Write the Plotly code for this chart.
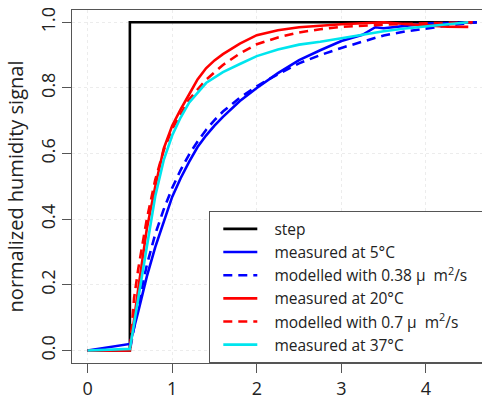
import plotly.graph_objects as go

# ---- data ----
step_x = [0, 0.5, 0.5, 4.6]
step_y = [0, 0, 1.0, 1.0]

t_red = [0, 0.5, 0.6, 0.7, 0.8, 0.9, 1.0, 1.1, 1.2, 1.3, 1.4, 1.5, 1.6, 1.8, 2.0, 2.25, 2.5, 2.75, 3.0, 3.25, 3.5, 3.75, 4.0, 4.25, 4.5]
meas_20 = [0, 0, 0.19, 0.37, 0.50, 0.615, 0.685, 0.735, 0.78, 0.826, 0.86, 0.884, 0.903, 0.935, 0.961, 0.976, 0.985, 0.99, 0.994, 0.997, 1.0, 0.995, 0.99, 0.987, 0.986]

t_mod20 = [0, 0.5, 0.55, 0.6, 0.7, 0.8, 0.9, 1.0, 1.2, 1.4, 1.6, 1.8, 2.0, 2.25, 2.5, 2.75, 3.0, 3.5, 4.0, 4.6]
mod_20 = [0, 0, 0.16, 0.25, 0.40, 0.52, 0.61, 0.675, 0.765, 0.825, 0.87, 0.905, 0.933, 0.954, 0.969, 0.979, 0.986, 0.993, 0.997, 1.0]

t_cyan = [0, 0.5, 0.6, 0.7, 0.8, 0.9, 1.0, 1.1, 1.2, 1.4, 1.6, 1.8, 2.0, 2.25, 2.5, 2.75, 3.0, 3.25, 3.5, 3.75, 4.0, 4.25, 4.5]
meas_37 = [0, 0.005, 0.16, 0.32, 0.47, 0.58, 0.655, 0.71, 0.755, 0.815, 0.848, 0.873, 0.897, 0.917, 0.932, 0.941, 0.952, 0.964, 0.973, 0.981, 0.987, 0.992, 1.0]

t_blue = [0, 0.5, 0.6, 0.7, 0.8, 0.9, 1.0, 1.1, 1.2, 1.3, 1.4, 1.5, 1.6, 1.8, 2.0, 2.25, 2.5, 2.75, 3.0, 3.25, 3.4, 3.5, 3.75, 4.0, 4.25, 4.6]
meas_5 = [0, 0.02, 0.12, 0.225, 0.315, 0.395, 0.468, 0.525, 0.575, 0.62, 0.655, 0.685, 0.712, 0.76, 0.80, 0.845, 0.885, 0.915, 0.943, 0.962, 0.985, 0.982, 0.99, 0.996, 0.998, 1.0]

t_mod5 = [0, 0.5, 0.6, 0.7, 0.8, 0.9, 1.0, 1.1, 1.2, 1.3, 1.4, 1.5, 1.6, 1.8, 2.0, 2.25, 2.5, 2.75, 3.0, 3.25, 3.5, 3.75, 4.0, 4.25, 4.6]
mod_5 = [0, 0, 0.14, 0.26, 0.355, 0.43, 0.495, 0.55, 0.597, 0.637, 0.672, 0.702, 0.728, 0.77, 0.805, 0.842, 0.875, 0.9, 0.922, 0.942, 0.96, 0.972, 0.981, 0.99, 1.0]

x_ticks = [0, 1, 2, 3, 4]
y_ticks = [0.0, 0.2, 0.4, 0.6, 0.8, 1.0]
y_ticklabels = ["0.0", "0.2", "0.4", "0.6", "0.8", "1.0"]

names = ["step", "measured at 5°C", "modelled with 0.38 μ  m<sup>2</sup>/s",
         "measured at 20°C", "modelled with 0.7 μ  m<sup>2</sup>/s", "measured at 37°C"]

LW = 2.6
DASH = "9px,6px"
series = [
    (step_x, step_y, "black", "solid"),
    (t_blue, meas_5, "#0000ff", "solid"),
    (t_mod5, mod_5, "#0000ff", DASH),
    (t_red, meas_20, "#ff0000", "solid"),
    (t_mod20, mod_20, "#ff0000", DASH),
    (t_cyan, meas_37, "#00e5ee", "solid"),
]

PAD = "\u00a0\u00a0\u00a0"
fig = go.Figure()
for i, ((xs, ys, col, dash), nm) in enumerate(zip(series, names)):
    label = PAD + nm + ("\u00a0" * 8 if i == 2 else "")
    fig.add_trace(go.Scatter(
        x=xs, y=ys, mode="lines", name=label,
        line=dict(color=col, width=LW, dash=dash),
    ))

FONT = "Open Sans, Liberation Sans, Arial, sans-serif"
AXC = "#555555"
fig.update_layout(
    width=482, height=413,
    margin=dict(l=72, r=0, t=10, b=50, autoexpand=False),
    paper_bgcolor="white", plot_bgcolor="white",
    font=dict(family=FONT, color="#222222", size=18),
    showlegend=True,
    legend=dict(
        x=(209 - 72) / 410, y=0, xanchor="left", yanchor="bottom",
        bordercolor=AXC, borderwidth=1.3, bgcolor="white",
        font=dict(size=15.5, family=FONT, color="#222222"),
        indentation=8, itemwidth=34,
    ),
    xaxis=dict(
        range=[-0.184, 4.662], tickvals=x_ticks, ticks="outside", ticklen=9,
        tickcolor=AXC, tickwidth=1.3, showline=True, linecolor=AXC, linewidth=1.3,
        mirror=True, showgrid=True, gridcolor="#ececec", griddash="dot", gridwidth=1,
        zeroline=False, tickfont=dict(size=18),
    ),
    yaxis=dict(
        range=[-0.038, 1.0375], tickvals=y_ticks, ticktext=y_ticklabels,
        ticks="outside", ticklen=9, tickcolor=AXC, tickwidth=1.3, tickangle=-90,
        showline=True, linecolor=AXC, linewidth=1.3,
        showgrid=True, gridcolor="#ececec", griddash="dot", gridwidth=1,
        zeroline=False, tickfont=dict(size=18),
        title=dict(text="normalized humidity signal", font=dict(size=20), standoff=6),
    ),
)

fig.write_html("out.html")
